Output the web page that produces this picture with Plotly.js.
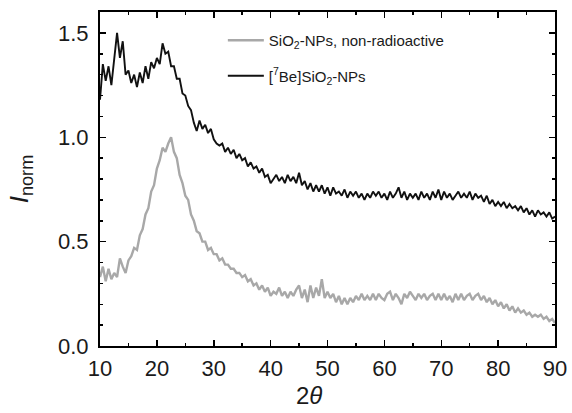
<!DOCTYPE html>
<html>
<head>
<meta charset="utf-8">
<script src="https://cdn.plot.ly/plotly-3.0.1.min.js"></script>
<style>html,body{margin:0;padding:0;background:#fff;}#chart{width:572px;height:413px;}</style>
</head>
<body>
<div id="chart"></div>
<script>
// 2θ grid: start 10°, step 0.5°, to 90°
const twoThetaStart = 10;
const twoThetaStep = 0.5;

// [7Be]SiO2-NPs (black)
const beSiO2 = [
1.18,1.35,1.27,1.34,1.25,1.39,1.50,1.38,1.46,1.30,
1.32,1.26,1.30,1.24,1.31,1.26,1.34,1.28,1.36,1.33,
1.38,1.35,1.45,1.40,1.41,1.34,1.34,1.28,1.28,1.21,
1.20,1.15,1.13,1.07,1.03,1.08,1.04,1.06,1.02,1.04,
0.99,0.97,0.96,0.97,0.93,0.95,0.92,0.94,0.90,0.92,
0.89,0.90,0.86,0.88,0.85,0.86,0.83,0.85,0.81,0.82,
0.78,0.80,0.82,0.79,0.81,0.78,0.82,0.79,0.81,0.78,
0.83,0.77,0.79,0.75,0.78,0.74,0.77,0.74,0.77,0.73,
0.76,0.72,0.76,0.73,0.74,0.72,0.75,0.71,0.74,0.72,
0.74,0.71,0.73,0.70,0.73,0.71,0.74,0.72,0.74,0.71,
0.73,0.70,0.74,0.71,0.73,0.76,0.71,0.74,0.70,0.73,
0.71,0.73,0.70,0.74,0.71,0.73,0.70,0.74,0.71,0.75,
0.70,0.74,0.71,0.73,0.70,0.72,0.74,0.71,0.73,0.71,
0.74,0.70,0.73,0.71,0.72,0.69,0.72,0.68,0.70,0.67,
0.69,0.67,0.69,0.66,0.68,0.66,0.67,0.65,0.67,0.64,
0.66,0.63,0.65,0.62,0.65,0.63,0.64,0.62,0.64,0.61,
0.62
];

// SiO2-NPs, non-radioactive (gray)
const sio2 = [
0.33,0.38,0.31,0.37,0.32,0.35,0.33,0.42,0.38,0.35,
0.41,0.43,0.47,0.46,0.53,0.56,0.63,0.66,0.74,0.77,
0.85,0.89,0.95,0.93,0.97,1.00,0.93,0.90,0.82,0.78,
0.72,0.70,0.63,0.60,0.55,0.54,0.50,0.50,0.46,0.47,
0.44,0.44,0.41,0.42,0.39,0.39,0.37,0.37,0.35,0.35,
0.33,0.34,0.31,0.32,0.29,0.30,0.27,0.29,0.26,0.28,
0.24,0.26,0.25,0.28,0.24,0.26,0.23,0.26,0.24,0.27,
0.29,0.23,0.27,0.21,0.29,0.23,0.28,0.24,0.32,0.23,
0.26,0.23,0.25,0.21,0.24,0.20,0.23,0.20,0.23,0.21,
0.24,0.22,0.25,0.22,0.24,0.22,0.25,0.22,0.25,0.23,
0.22,0.25,0.26,0.22,0.25,0.23,0.20,0.25,0.23,0.26,
0.24,0.22,0.25,0.23,0.25,0.22,0.24,0.25,0.22,0.25,
0.22,0.25,0.22,0.24,0.21,0.25,0.22,0.25,0.22,0.24,
0.25,0.22,0.24,0.25,0.22,0.24,0.21,0.23,0.20,0.22,
0.19,0.21,0.18,0.20,0.17,0.19,0.16,0.18,0.16,0.17,
0.15,0.16,0.14,0.15,0.14,0.15,0.13,0.14,0.12,0.13,
0.11
];

const seriesNames = ['SiO<sub>2</sub>-NPs, non-radioactive', '[<sup>7</sup>Be]SiO<sub>2</sub>-NPs'];
const xTitle = '2<i>θ</i>';
const yTitle = '<i>I</i><sub>norm</sub>';

const twoTheta = sio2.map((_, i) => twoThetaStart + i * twoThetaStep);

const font = 'Liberation Sans, Arial, Helvetica, sans-serif';

const traces = [
  {x: twoTheta, y: sio2, type: 'scatter', mode: 'lines', name: seriesNames[0],
   legendgroup: 'a', line: {color: '#a8a8a8', width: 2.4}},
  {x: twoTheta, y: beSiO2, type: 'scatter', mode: 'lines', name: seriesNames[1],
   legendgroup: 'b', line: {color: '#111111', width: 1.9}}
];

const axisCommon = {
  showline: true, linecolor: '#000', linewidth: 2, mirror: 'allticks',
  ticks: 'inside', ticklen: 6, tickwidth: 1.5, tickcolor: '#000',
  showgrid: false, zeroline: false,
  tickfont: {family: font, size: 22, color: '#1a1a1a'}
};

const layout = {
  width: 572, height: 413,
  margin: {l: 100, r: 17, t: 12, b: 67},
  paper_bgcolor: '#fff', plot_bgcolor: '#fff',
  showlegend: true,
  legend: {x: 0.27, y: 0.964, xanchor: 'left', yanchor: 'top',
    bgcolor: 'rgba(0,0,0,0)', font: {family: font, size: 15, color: '#1a1a1a'},
    tracegroupgap: 13, traceorder: 'grouped', itemwidth: 36},
  xaxis: Object.assign({}, axisCommon, {
    range: [10, 90], dtick: 10, tick0: 10, ticklabelstandoff: 2,
    minor: {dtick: 5, ticks: 'inside', ticklen: 3, tickwidth: 1.5, tickcolor: '#000'}
  }),
  yaxis: Object.assign({}, axisCommon, {
    range: [0, 1.6], dtick: 0.5, tick0: 0, tickformat: '.1f',
    ticklabelstandoff: 5,
    minor: {dtick: 0.1, ticks: 'inside', ticklen: 3, tickwidth: 1.5, tickcolor: '#000'},
    title: {text: yTitle, font: {family: font, size: 26, color: '#1a1a1a'}, standoff: 22}
  }),
  annotations: [
    {text: xTitle, xref: 'paper', yref: 'paper', x: 0.459, y: -0.147,
     xanchor: 'center', yanchor: 'middle', showarrow: false,
     font: {family: font, size: 24, color: '#1a1a1a'}}
  ]
};

Plotly.newPlot('chart', traces, layout, {displayModeBar: false, staticPlot: true});
</script>
</body>
</html>
